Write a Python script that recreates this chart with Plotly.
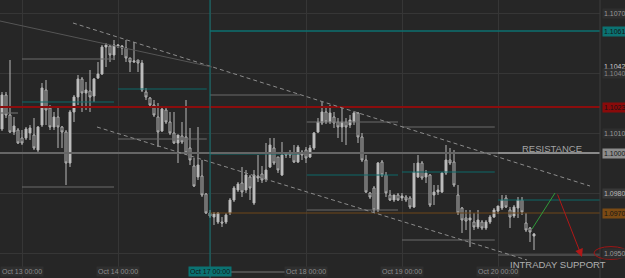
import plotly.graph_objects as go

# ---------------- data (hourly candles) ----------------
opens = [1.10120,1.10290,1.10190,1.10105,1.10115,1.10075,1.10075,1.10100,1.10090,1.10015,
         1.10140,1.10315,1.10225,1.10130,1.10180,1.10130,1.10105,1.09950,1.10205,1.10280,
         1.10370,1.10300,1.10310,1.10285,1.10375,1.10395,1.10530,1.10535,1.10490,1.10540,
         1.10525,1.10525,1.10475,1.10455,1.10465,1.10315,1.10305,1.10275,1.10240,1.10180,
         1.10110,1.10215,1.10155,1.10100,1.10050,1.10085,1.10080,1.10025,1.09935,1.09880,
         1.09885,1.09795,1.09700,1.09680,1.09655,1.09655,1.09655,1.09700,1.09765,1.09815,
         1.09850,1.09815,1.09880,1.09750,1.09875,1.09895,1.09870,1.09930,1.10025,1.09980,
         1.09890,1.09990,1.09990,1.10000,1.09955,1.10005,1.10015,1.09980,1.10025,1.10105,
         1.10150,1.10205,1.10155,1.10180,1.10155,1.10130,1.10155,1.10140,1.10155,1.10200,
         1.10080,1.09965,1.09800,1.09825,1.09715,1.09955,1.09890,1.09790,1.09765,1.09790,
         1.09775,1.09780,1.09775,1.09730,1.09880,1.09950,1.09880,1.09890,1.09790,1.09805,
         1.09805,1.09900,1.09965,1.09955,1.09790,1.09725,1.09675,1.09665,1.09655,1.09630,
         1.09655,1.09625,1.09655,1.09680,1.09710,1.09725,1.09775,1.09715,1.09685,1.09725,
         1.09765,1.09650,1.09625,1.09585]
highs = [1.10305,1.10305,1.10465,1.10180,1.10125,1.10115,1.10130,1.10140,1.10175,1.10135,
         1.10350,1.10365,1.10240,1.10205,1.10230,1.10135,1.10115,1.10215,1.10290,1.10390,
         1.10380,1.10355,1.10415,1.10375,1.10455,1.10540,1.10550,1.10540,1.10565,1.10545,
         1.10540,1.10565,1.10475,1.10555,1.10465,1.10465,1.10325,1.10280,1.10265,1.10250,
         1.10225,1.10225,1.10205,1.10205,1.10090,1.10155,1.10265,1.10125,1.09975,1.10130,
         1.09965,1.09800,1.09715,1.09705,1.09705,1.09680,1.09700,1.09775,1.09835,1.09855,
         1.09930,1.09915,1.09890,1.09915,1.09990,1.09935,1.10050,1.10075,1.10075,1.09980,
         1.10055,1.10000,1.10015,1.10040,1.10040,1.10015,1.10030,1.10040,1.10105,1.10175,
         1.10255,1.10225,1.10240,1.10205,1.10175,1.10230,1.10175,1.10190,1.10205,1.10205,
         1.10100,1.09990,1.09805,1.09835,1.09955,1.09965,1.09905,1.09815,1.09790,1.09800,
         1.09800,1.09790,1.09785,1.09950,1.09990,1.09960,1.09915,1.09895,1.09840,1.09840,
         1.09905,1.10040,1.10025,1.10015,1.09840,1.09730,1.09715,1.09715,1.09700,1.09715,
         1.09665,1.09665,1.09690,1.09725,1.09735,1.09790,1.09790,1.09730,1.09740,1.09780,
         1.09780,1.09700,1.09630,1.09600]
lows = [1.10110,1.10175,1.10100,1.10090,1.10045,1.10040,1.10065,1.10065,1.10015,1.10005,
        1.10130,1.10140,1.10115,1.10115,1.10025,1.10025,1.09840,1.09930,1.10155,1.10240,
        1.10205,1.10215,1.10205,1.10255,1.10370,1.10390,1.10430,1.10455,1.10465,1.10525,
        1.10490,1.10455,1.10405,1.10450,1.10405,1.10305,1.10265,1.10235,1.10180,1.10030,
        1.10105,1.10145,1.10090,1.10045,1.09950,1.10045,1.09990,1.09940,1.09830,1.09865,
        1.09780,1.09695,1.09675,1.09640,1.09645,1.09630,1.09645,1.09690,1.09755,1.09805,
        1.09780,1.09800,1.09765,1.09740,1.09855,1.09850,1.09855,1.09925,1.09940,1.09900,
        1.09885,1.09975,1.09975,1.09950,1.09950,1.09965,1.09950,1.09975,1.10015,1.10100,
        1.10140,1.10145,1.10145,1.10125,1.10075,1.10055,1.10040,1.10125,1.10140,1.10050,
        1.09955,1.09800,1.09770,1.09700,1.09705,1.09880,1.09780,1.09760,1.09755,1.09760,
        1.09760,1.09755,1.09720,1.09725,1.09875,1.09865,1.09850,1.09730,1.09740,1.09790,
        1.09800,1.09890,1.09940,1.09830,1.09690,1.09600,1.09615,1.09530,1.09615,1.09620,
        1.09615,1.09615,1.09645,1.09675,1.09695,1.09715,1.09725,1.09625,1.09675,1.09675,
        1.09690,1.09605,1.09555,1.09515]
closes = [1.10290,1.10190,1.10105,1.10135,1.10050,1.10050,1.10120,1.10125,1.10025,1.10130,
          1.10325,1.10215,1.10130,1.10180,1.10130,1.10105,1.09950,1.10205,1.10280,1.10370,
          1.10300,1.10315,1.10280,1.10370,1.10395,1.10530,1.10540,1.10490,1.10540,1.10535,
          1.10535,1.10475,1.10455,1.10460,1.10450,1.10450,1.10280,1.10240,1.10190,1.10105,
          1.10220,1.10155,1.10100,1.10050,1.10090,1.10055,1.10000,1.09965,1.09835,1.09940,
          1.09790,1.09700,1.09685,1.09695,1.09700,1.09650,1.09690,1.09765,1.09825,1.09845,
          1.09805,1.09890,1.09825,1.09890,1.09885,1.09865,1.09915,1.10040,1.09950,1.09915,
          1.09990,1.09995,1.10000,1.09955,1.10030,1.09990,1.09975,1.10025,1.10100,1.10155,
          1.10205,1.10155,1.10200,1.10150,1.10130,1.10155,1.10130,1.10165,1.10200,1.10080,
          1.09965,1.09805,1.09780,1.09715,1.09950,1.09890,1.09800,1.09765,1.09790,1.09765,
          1.09785,1.09765,1.09730,1.09905,1.09950,1.09875,1.09900,1.09740,1.09805,1.09815,
          1.09900,1.09965,1.09950,1.09840,1.09700,1.09665,1.09660,1.09675,1.09630,1.09665,
          1.09625,1.09655,1.09680,1.09715,1.09735,1.09765,1.09730,1.09680,1.09730,1.09765,
          1.09705,1.09615,1.09605,1.09595]
bars = list(range(len(opens)))

# time axis (bar index of each day start)
day_bars = [5, 29, 52, 76, 100, 124]
day_labels = ["Oct 13 00:00", "Oct 14 00:00", "Oct 17 00:00", "Oct 18 00:00", "Oct 19 00:00", "Oct 20 00:00"]

# price grid / scale labels
grid_prices = [1.1070, 1.1040, 1.1010, 1.0980, 1.0950]
scale_prices = [1.1070, 1.1061, 1.10435, 1.1040, 1.1023, 1.1010, 1.1000, 1.0980, 1.0970, 1.0950]
scale_labels = ["1.1070", "1.1061", "1.1042", "1.1040", "1.1023", "1.1010", "1.1000", "1.0980", "1.0970", "1.0950"]
scale_bg = ["#2e2e2e", "#0b7272", "rgba(0,0,0,0)", "#2e2e2e", "#8a0a0a", "#2e2e2e", "#8c8c8c", "#383838", "#7a4a14", "#2e2e2e"]
scale_fg = ["#9a9a9a", "#151515", "#d0d0d0", "#8a8a8a", "#151515", "#9a9a9a", "#151515", "#b8b8b8", "#151515", "#9a9a9a"]

# daily pivot segments: (start bar, end bar, price)
pivot_gray = [(-0.5, 4, 1.10200), (5, 28, 1.10470), (5, 28, 1.09830), (29, 51.2, 1.10070),
              (52, 74.5, 1.10290), (76.2, 99, 1.10155), (76.2, 99, 1.09715),
              (100, 123.2, 1.10130), (100, 123.2, 1.09565), (124, 149.5, 1.09490)]
pivot_teal = [(5, 28, 1.10255), (29, 51.2, 1.10320), (52, 74.5, 1.09995), (76.2, 99, 1.09890),
              (100, 123.2, 1.09905), (124, 149.5, 1.09765)]

# key levels
red_level = 1.1023
resistance_level = 1.1000
teal_level = 1.1061
orange_level = 1.0970
session_bar = 52

# trend lines: (bar0, price0, bar1, price1)
upper_channel = (17.75, 1.10650, 147.0, 1.09835)
lower_channel = (23.75, 1.10130, 131.25, 1.09465)
old_trend = (-0.5, 1.10660, 52.5, 1.10430)
green_leg = (132.5, 1.09620, 138.25, 1.09800)
red_leg = (138.75, 1.09800, 145.0, 1.09480)

BG = "#262626"
fig = go.Figure()

def seg_trace(segs, color, width):
    xs, ys = [], []
    for a, b, p in segs:
        xs += [a, b, None]
        ys += [p, p, None]
    return go.Scatter(x=xs, y=ys, mode="lines", line=dict(color=color, width=width),
                      hoverinfo="skip", showlegend=False)

fig.add_trace(seg_trace(pivot_gray, "#6a6a6a", 1.2))
fig.add_trace(seg_trace(pivot_teal, "#0d6868", 1.2))
fig.add_trace(seg_trace([(-0.5, 149.5, resistance_level)], "#666666", 2))
fig.add_trace(seg_trace([(124, 149.5, resistance_level)], "#8a8a8a", 2))
fig.add_trace(seg_trace([(session_bar, 149.5, orange_level)], "#6e4618", 1))
fig.add_trace(seg_trace([(session_bar, 149.5, teal_level)], "#0d7070", 1.5))

fig.add_trace(go.Candlestick(
    x=bars, open=opens, high=highs, low=lows, close=closes,
    increasing=dict(line=dict(color="#b8b8b8", width=1), fillcolor="#c4c4c4"),
    decreasing=dict(line=dict(color="#b8b8b8", width=1), fillcolor=BG),
    whiskerwidth=0, hoverinfo="skip", showlegend=False))

shapes = []
shapes.append(dict(type="line", xref="x", yref="y", x0=-0.5, x1=149.5, y0=red_level, y1=red_level,
                   line=dict(color="#8b0d0d", width=2), layer="above"))
shapes.append(dict(type="line", xref="x", yref="paper", x0=session_bar, x1=session_bar, y0=0, y1=1,
                   line=dict(color="#0d7575", width=1), layer="above"))
for (a, p0, b, p1), dash, col in [(upper_channel, "4px,3px", "#8c8c8c"),
                                  (lower_channel, "4px,3px", "#8c8c8c"),
                                  (old_trend, "solid", "#555555")]:
    shapes.append(dict(type="line", xref="x", yref="y", x0=a, y0=p0, x1=b, y1=p1,
                       line=dict(color=col, width=1, dash=dash), layer="above"))
a, p0, b, p1 = green_leg
shapes.append(dict(type="line", xref="x", yref="y", x0=a, y0=p0, x1=b, y1=p1,
                   line=dict(color="#2f9a3a", width=1), layer="above"))
shapes.append(dict(type="line", xref="paper", yref="paper", x0=1, x1=1, y0=0, y1=1,
                   line=dict(color="#3c3c3c", width=1)))
shapes.append(dict(type="line", xref="paper", yref="paper", x0=228/600, x1=287/600, y0=0.0216, y1=0.0216,
                   line=dict(color="#4e4e4e", width=2)))
shapes.append(dict(type="circle", xref="paper", yref="y", x0=594/600, x1=628/600,
                   y0=1.0950 - 0.00032, y1=1.0950 + 0.00032,
                   line=dict(color="#a01515", width=1)))

annotations = []
a, p0, b, p1 = red_leg
annotations.append(dict(x=b, y=p1, ax=a, ay=p0, xref="x", yref="y", axref="x", ayref="y",
                        text="", showarrow=True, arrowhead=2, arrowsize=1.6, arrowwidth=1,
                        arrowcolor="#b01818"))
for p, t, bg, fg in zip(scale_prices, scale_labels, scale_bg, scale_fg):
    annotations.append(dict(x=1.003, y=p, xref="paper", yref="y", text=t, showarrow=False,
                            xanchor="left", yanchor="middle", bgcolor=bg, borderpad=1,
                            font=dict(family="Liberation Sans, Arial", size=7, color=fg)))
for d, t in zip(day_bars, day_labels):
    sel = t.startswith("Oct 17")
    annotations.append(dict(x=d, y=0.0216, xref="x", yref="paper", text=t, showarrow=False,
                            xanchor="center", yanchor="middle", borderpad=1,
                            bgcolor="#0b7272" if sel else "#2f2f2f",
                            font=dict(family="Liberation Sans, Arial", size=7,
                                      color="#151515" if sel else "#8e8e8e")))
annotations.append(dict(x=137.5, y=1.10025, xref="x", yref="y", text="RESISTANCE", showarrow=False,
                        font=dict(family="Liberation Sans, Arial", size=9.5, color="#a4a4a4")))
annotations.append(dict(x=139.0, y=1.09445, xref="x", yref="y", text="INTRADAY SUPPORT", showarrow=False,
                        font=dict(family="Liberation Sans, Arial", size=9.5, color="#b0b0b0")))

fig.update_layout(
    width=625, height=278, margin=dict(l=0, r=25, t=0, b=0),
    paper_bgcolor=BG, plot_bgcolor=BG, showlegend=False, hovermode=False,
    shapes=shapes, annotations=annotations,
    xaxis=dict(range=[-0.5, 149.5], tickvals=day_bars, showticklabels=False, showgrid=True,
               gridcolor="#363636", gridwidth=1, zeroline=False, rangeslider=dict(visible=False),
               fixedrange=True, showline=False),
    yaxis=dict(range=[1.09375, 1.10765], tickvals=grid_prices, showticklabels=False, showgrid=True,
               gridcolor="#363636", gridwidth=1, zeroline=False, fixedrange=True),
)
fig.write_html("out.html", config={"displayModeBar": False})
